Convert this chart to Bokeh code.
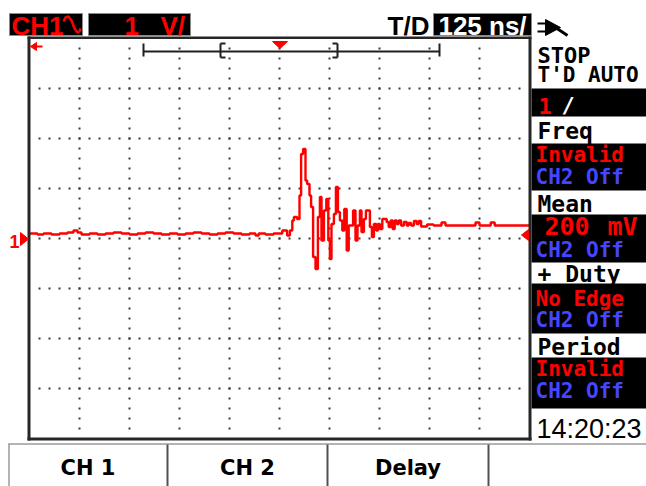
from bokeh.plotting import figure
from bokeh.models import Range1d
from bokeh.core.properties import value
from bokeh.embed import file_html
from bokeh.resources import INLINE

# ---------------- data ----------------
# CH1 captured samples: time in ns (0 = trigger), voltage in V
trace_t = [-625, -605, -590, -570, -550, -530, -515, -505, -495, -475, -455, -435,
           -415, -395, -375, -355, -335, -315, -295, -275, -255, -235, -215, -195,
           -175, -155, -135, -115, -95, -75, -60, -52, -35, -15,
           7, 19, 26, 32, 36, 44, 50, 54, 59, 65, 69, 75, 79, 84, 90, 96, 101, 105,
           111, 117, 122, 126, 130, 136, 141, 146, 151, 157, 162, 168, 173, 184,
           190, 195, 201, 205, 211, 216, 226, 231, 236, 242, 246, 251, 257, 268,
           273, 278, 283, 288, 293, 298, 304, 311, 318, 323, 329, 336, 343, 348,
           354, 369, 385, 405, 415, 490, 500, 528, 538, 625]
trace_v = [0.10, 0.08, 0.10, 0.08, 0.10, 0.12, 0.16, 0.12, 0.08, 0.10, 0.08, 0.10,
           0.12, 0.10, 0.08, 0.10, 0.12, 0.10, 0.08, 0.10, 0.08, 0.10, 0.12, 0.10,
           0.08, 0.10, 0.12, 0.10, 0.08, 0.10, 0.06, 0.10, 0.08, 0.10,
           0.16, 0.06, 0.16, 0.36, 0.43, 0.39, 0.86, 1.69, 1.79, 1.16, 1.09, 0.86,
           0.63, -0.37, -0.61, 0.43, 0.83, -0.04, 0.56, 0.79, -0.04, -0.41, 0.29,
           0.49, 1.03, 0.53, 0.36, 0.16, 0.59, -0.24, 0.26, 0.56, -0.04, 0.26, 0.56,
           0.13, 0.39, 0.56, 0.23, 0.03, 0.29, 0.16, 0.29, 0.19, 0.39, 0.33, 0.23,
           0.36, 0.19, 0.36, 0.29, 0.36, 0.26, 0.33, 0.26, 0.31, 0.26, 0.35, 0.29,
           0.35, 0.24, 0.28, 0.26, 0.32, 0.26, 0.32, 0.26, 0.32, 0.26, 0.26]

time_per_div = 125.0   # ns/div
volt_per_div = 1.0     # V/div
x_divs = 10
y_divs = 8
dot_dt = 25.0          # ns between graticule dots
dot_dv = 0.2           # V between graticule dots

header_channel = "CH1"
header_volts = ["1", "V/"]
header_td = "T/D"
header_time = "125 ns/"

panel_title = ["STOP", "T'D AUTO"]
panel_trig = ["1", "/"]
meas_names = ["Freq", "Mean", "+ Duty", "Period"]
meas_ch1 = ["Invalid", "200", "No Edge", "Invalid"]
meas_ch2 = ["CH2 Off", "CH2 Off", "CH2 Off", "CH2 Off"]
clock_text = "14:20:23"
button_labels = ["CH 1", "CH 2", "Delay", ""]

# ---------------- layout constants (page pixels) ----------------
W, H, OFF = 646, 486, 0
SL, SR, ST, SB = 29, 529, 38, 438          # graticule area
RED, BLUE, BLK, WHT = "#ff0000", "#4646ff", "#000000", "#ffffff"

ns_px = time_per_div * x_divs / (SR - SL)
v_px = volt_per_div * y_divs / (SB - ST)
x0 = -time_per_div * x_divs / 2 - (SL - OFF) * ns_px
y1 = volt_per_div * y_divs / 2 + (ST - OFF) * v_px

p = figure(width=W, height=H, x_range=Range1d(x0, x0 + W * ns_px),
           y_range=Range1d(y1 - H * v_px, y1), output_backend="svg",
           toolbar_location=None, x_axis_type=None, y_axis_type=None,
           min_border=0, title=None)
p.extra_x_ranges = {"px": Range1d(OFF, OFF + W)}
p.extra_y_ranges = {"py": Range1d(OFF + H, OFF)}
p.outline_line_color = None
p.background_fill_color = "white"
p.border_fill_color = "white"
PX = dict(x_range_name="px", y_range_name="py")


def box(l, r, t, b, fill, line=None, lw=1):
    p.quad(left=[l], right=[r], top=[t], bottom=[b], fill_color=fill,
           line_color=line, line_width=lw, **PX)


def txt(s, x, y, color, size, font="DejaVu Sans Mono", style="bold", align="left"):
    # y is the wanted baseline of the text on the page
    p.text(x=[x], y=[y - 0.3 * size], text=[s], text_color=color, text_font=value(font),
           text_font_size=f"{size}px", text_font_style=style, text_align=align,
           text_baseline="alphabetic", **PX)


def seg(xa, ya, xb, yb, color, lw):
    p.segment(x0=[xa], y0=[ya], x1=[xb], y1=[yb], line_color=color, line_width=lw, **PX)


def tri(xs, ys, color):
    p.patch(x=xs, y=ys, fill_color=color, line_color=color, line_width=1, **PX)


# ---------------- right panel ----------------
for (t, b) in [(88, 116), (143, 190), (214, 262), (283, 333), (357, 408)]:
    box(531, 646, t, b, BLK)

# ---------------- graticule dots ----------------
half_t = time_per_div * x_divs / 2
half_v = volt_per_div * y_divs / 2
dx, dy = [], []
for k in range(1, x_divs):
    t = -half_t + k * time_per_div
    n = int(round(2 * half_v / dot_dv))
    for j in range(1, n):
        dx.append(t)
        dy.append(-half_v + j * dot_dv)
for k in range(1, y_divs):
    v = -half_v + k * volt_per_div
    n = int(round(2 * half_t / dot_dt))
    for j in range(1, n):
        dx.append(-half_t + j * dot_dt)
        dy.append(v)
p.rect(x=dx, y=dy, width=2, height=2, width_units="screen", height_units="screen",
       fill_color="#3a3a3a", line_color=None)

# ---------------- trace ----------------
p.step(x=trace_t, y=trace_v, mode="after", line_color=RED, line_width=2.4)

# ---------------- scope border ----------------
BC = "#262626"
box(27, 30, 36, 440, BC)
box(528, 531, 36, 440, BC)
box(27, 531, 36, 38.5, BC)
box(27, 531, 437, 440, BC)

# markers
txt("1", 9, 246, RED, 18, font="Liberation Sans")
tri([20, 20, 28], [232, 245, 238.5], RED)
tri([528, 528, 521], [229, 240, 234.5], RED)
tri([30, 36, 36], [46, 42, 50], RED)
seg(36, 46, 42, 46, RED, 2)

# memory bar
seg(143, 51, 439, 51, "#202020", 2)
seg(143, 43, 143, 56, "#202020", 2)
seg(439, 43, 439, 56, "#202020", 2)
seg(220, 43, 220, 57, "#202020", 2)
seg(220, 43, 225, 43, "#202020", 2)
seg(220, 57, 225, 57, "#202020", 2)
seg(337, 43, 337, 57, "#202020", 2)
seg(332, 43, 337, 43, "#202020", 2)
seg(332, 57, 337, 57, "#202020", 2)
tri([272, 287, 279.5], [41, 41, 48], RED)

# ---------------- header ----------------
box(9, 82, 13, 35, BLK, "#8a8a8a")
box(88, 190, 13, 35, BLK, "#8a8a8a")
box(433, 531, 13, 35, BLK, "#8a8a8a")
HF = "Liberation Sans"
txt(header_channel, 11, 33, RED, 26, font=HF)
p.line(x=[63, 65, 68, 71, 74, 77, 79, 80], y=[21, 17, 16, 20, 28, 32, 31, 28],
       line_color=RED, line_width=2.5, **PX)
txt(header_volts[0], 124, 33, RED, 26, font=HF)
txt(header_volts[1], 160, 33, RED, 26, font=HF)
txt(header_td, 429, 33, BLK, 26, font=HF, align="right")
txt(header_time, 482, 33, WHT, 26, font=HF, align="center")
# run/stop icon
tri([545, 545, 560], [19, 35, 27], BLK)
seg(555, 27, 567, 35, BLK, 3)
seg(537, 23, 545, 23, BLK, 2)
seg(537, 31, 545, 31, BLK, 2)

# ---------------- panel texts ----------------
txt(panel_title[0], 537, 62, BLK, 22)
txt(panel_title[1], 537, 81, BLK, 21)
txt(panel_trig[0], 538, 112, RED, 22)
txt(panel_trig[1], 561, 112, WHT, 22)
name_y = [137, 210, 280, 353]
ch1_y = [161, 233, 305, 375]
ch2_y = [183, 256, 326, 397]
for i in range(4):
    txt(meas_names[i], 537, name_y[i], BLK, 23)
    if meas_ch1[i] == "200":
        txt(meas_ch1[i], 544, ch1_y[i], RED, 25)
        txt("mV", 607, ch1_y[i], RED, 25)
    else:
        txt(meas_ch1[i], 535, ch1_y[i], RED, 21)
    txt(meas_ch2[i], 535, ch2_y[i], BLUE, 21)
txt(clock_text, 536, 437, BLK, 27, font="Liberation Sans", style="normal")

# ---------------- bottom soft-key bar ----------------
seg(8, 443.5, 646, 443.5, "#9a9a9a", 1.5)
seg(8.5, 443, 8.5, 486, "#9a9a9a", 1.5)
edges = [8, 167, 327, 488, 646]
for xe in edges[1:-1]:
    seg(xe, 444, xe, 486, "#505050", 2)
for i, lab in enumerate(button_labels):
    if lab:
        txt(lab, (edges[i] + edges[i + 1]) / 2, 474, BLK, 21, font="DejaVu Sans",
            align="center")

open("out.html", "w").write(file_html(p, INLINE))
